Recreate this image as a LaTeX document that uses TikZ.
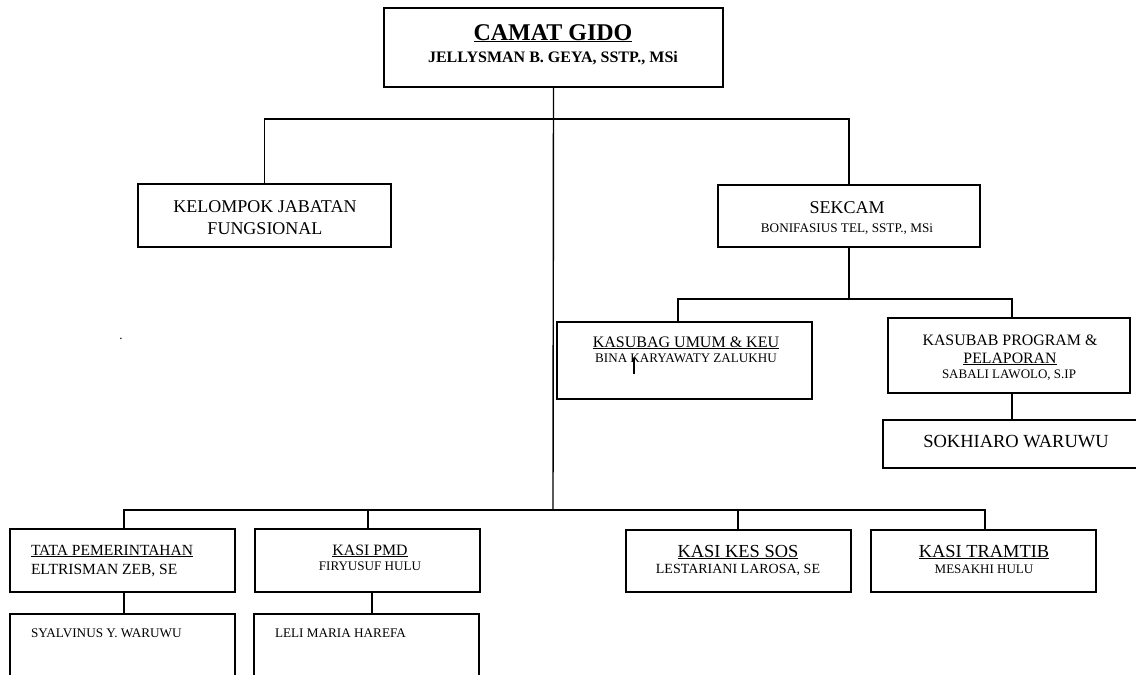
\documentclass[tikz,border=0pt]{standalone}
\usepackage{fontspec}
\setmainfont{Liberation Serif}
\newcommand\fsz[1]{\fontsize{#1}{#1}\selectfont}
\begin{document}
\begin{tikzpicture}[x=1pt,y=-1pt,
  box/.style={draw, line width=1.8pt, inner sep=0pt, outer sep=0pt, anchor=north west},
  conn/.style={line width=1.4pt},
  txt/.style={inner sep=0pt, outer sep=0pt, anchor=base},
  ltxt/.style={inner sep=0pt, outer sep=0pt, anchor=base west}]
\useasboundingbox (0,0) rectangle (1136,675);
\clip (0,0) rectangle (1136,675);
% boxes
\node[box, minimum width=339pt, minimum height=79pt] (camat) at (384,8) {};
\node[box, minimum width=253pt, minimum height=63pt] (kel) at (138,184) {};
\node[box, minimum width=262pt, minimum height=62pt] (sek) at (718,185) {};
\node[box, minimum width=255pt, minimum height=77pt] (kasubag) at (557,322) {};
\node[box, minimum width=242pt, minimum height=75pt] (kasubab) at (888,318) {};
\node[box, minimum width=260pt, minimum height=48pt] (sokh) at (883,420) {};
\node[box, minimum width=225pt, minimum height=63pt] (tata) at (10,529) {};
\node[box, minimum width=225pt, minimum height=63pt] (pmd) at (255,529) {};
\node[box, minimum width=225pt, minimum height=62pt] (kessos) at (626,530) {};
\node[box, minimum width=225pt, minimum height=62pt] (tramtib) at (871,530) {};
\node[box, minimum width=225pt, minimum height=90pt] (syal) at (10,614) {};
\node[box, minimum width=225pt, minimum height=90pt] (leli) at (254,614) {};
% texts
\node[txt] (t1) at (553,40) {\fsz{24}\bfseries\underline{CAMAT GIDO}};
\node[txt] (t2) at (553,62) {\fsz{16}\bfseries JELLYSMAN B. GEYA, SSTP., MSi};
\node[txt] (t3) at (265,212) {\fsz{18}KELOMPOK JABATAN};
\node[txt] (t4) at (265,234) {\fsz{18}FUNGSIONAL};
\node[txt] (t5) at (847,213) {\fsz{18}SEKCAM};
\node[txt] (t6) at (847,232) {\fsz{13.2}BONIFASIUS TEL, SSTP., MSi};
\node[txt] (t7) at (686,347) {\fsz{16}\underline{KASUBAG UMUM \& KEU}};
\node[txt] (t8) at (686,362) {\fsz{13.1}BINA KARYAWATY ZALUKHU};
\node[txt] (t9) at (1010,345) {\fsz{15.9}KASUBAB PROGRAM \&};
\node[txt] (t10) at (1010,363) {\fsz{15.8}\underline{PELAPORAN}};
\node[txt] (t11) at (1009,378) {\fsz{13}SABALI LAWOLO, S.IP};
\node[txt] (t12) at (1016,447) {\fsz{18.5}SOKHIARO WARUWU};
\node[ltxt] (t13) at (31,555) {\fsz{15.5}\underline{TATA PEMERINTAHAN}};
\node[ltxt] (t14) at (31,574) {\fsz{15.5}ELTRISMAN ZEB, SE};
\node[txt] (t15) at (370,555) {\fsz{15.8}\underline{KASI PMD}};
\node[txt] (t16) at (370,570) {\fsz{13.1}FIRYUSUF HULU};
\node[txt] (t17) at (738,557) {\fsz{18.4}\underline{KASI KES SOS}};
\node[txt] (t18) at (738,573) {\fsz{14}LESTARIANI LAROSA, SE};
\node[txt] (t19) at (984,557) {\fsz{18.4}\underline{KASI TRAMTIB}};
\node[txt] (t20) at (984,573) {\fsz{13}MESAKHI HULU};
\node[ltxt] (t21) at (31,637) {\fsz{13.2}SYALVINUS Y. WARUWU};
\node[ltxt] (t22) at (275,637) {\fsz{13.2}LELI MARIA HAREFA};
\node[txt] (dot) at (121,339) {\fsz{13}.};
% junctions
\coordinate (jtop) at (553,119);
\coordinate (jbot) at (553,510);
\coordinate (jsek) at (849,299);
\coordinate (jkg) at (678,299);
\coordinate (jkb) at (1012,299);
\coordinate (d1) at (124,510);
\coordinate (d2) at (368,510);
\coordinate (d3) at (738,510);
\coordinate (d4) at (985,510);
\coordinate (d5) at (372,592);
% connectors
\draw[conn] (camat.south) -- (jbot);
\draw[conn] (kel.north) |- (jtop) -| (sek.north);
\draw[conn] (sek.south) -- (jsek);
\draw[conn] (jkg |- kasubag.north) -- (jkg) -- (jkb) -- (jkb |- kasubab.north);
\draw[conn] (jkb |- kasubab.south) -- (jkb |- sokh.north);
\draw[conn] (d1 |- tata.north) -- (d1) -- (d4) -- (d4 |- tramtib.north);
\draw[conn] (d2) -- (d2 |- pmd.north);
\draw[conn] (d3) -- (d3 |- kessos.north);
\draw[conn] (d1 |- tata.south) -- (d1 |- syal.north);
\draw[conn] (d5 |- pmd.south) -- (d5 |- leli.north);
\draw[conn] (634,358) -- (634,374);
\end{tikzpicture}
\end{document}
